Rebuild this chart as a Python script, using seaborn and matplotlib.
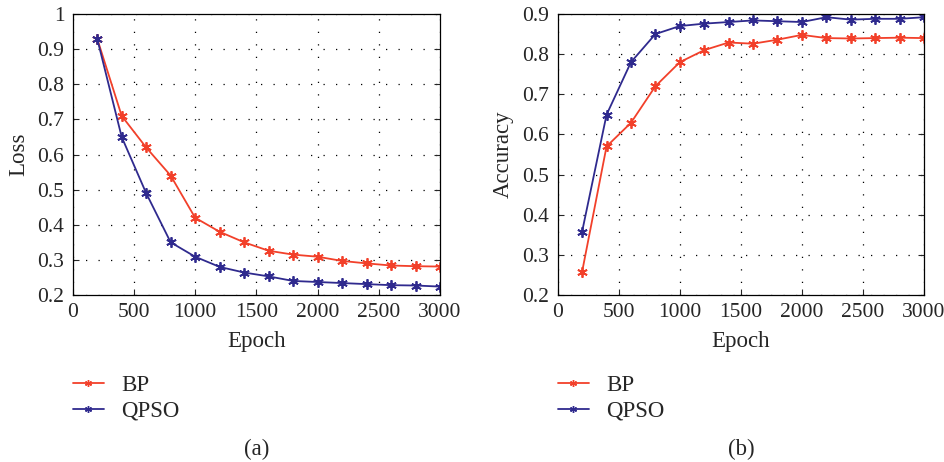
import numpy as np
import matplotlib
matplotlib.use("Agg")
import matplotlib.pyplot as plt
import seaborn as sns
from matplotlib.ticker import FuncFormatter

# --- data ---
epochs = [200, 400, 600, 800, 1000, 1200, 1400, 1600, 1800, 2000,
          2200, 2400, 2600, 2800, 3000]
loss_bp = [0.93, 0.71, 0.62, 0.54, 0.42, 0.38, 0.35, 0.326, 0.315, 0.309,
           0.297, 0.29, 0.284, 0.282, 0.281]
loss_qpso = [0.93, 0.65, 0.49, 0.35, 0.309, 0.28, 0.264, 0.253, 0.24, 0.237,
             0.234, 0.231, 0.228, 0.227, 0.224]
acc_bp = [0.258, 0.57, 0.629, 0.72, 0.78, 0.81, 0.829, 0.826, 0.836, 0.848,
          0.84, 0.839, 0.84, 0.841, 0.84]
acc_qpso = [0.358, 0.649, 0.78, 0.85, 0.87, 0.876, 0.88, 0.884, 0.882, 0.88,
            0.892, 0.886, 0.888, 0.888, 0.892]
methods = ["BP", "QPSO"]

colors = {"BP": "#f2402a", "QPSO": "#2f2a8e"}
star = (6, 2, 0)  # asterisk-like marker

sns.set_style("white")
plt.rcParams["font.family"] = ["Liberation Serif", "DejaVu Serif"]

fig = plt.figure(figsize=(9.45, 4.62), dpi=100)
W, H = 945, 462
ax1 = fig.add_axes([72.7 / W, 1 - 295 / H, (440 - 72.7) / W, (295 - 14) / H])
ax2 = fig.add_axes([557.7 / W, 1 - 295 / H, (924 - 557.7) / W, (295 - 14) / H])


def fmt(v, pos):
    return "%g" % round(v, 2)


panels = [(ax1, [loss_bp, loss_qpso], "Loss", (0.2, 1.0), np.arange(0.2, 1.01, 0.1), "(a)"),
          (ax2, [acc_bp, acc_qpso], "Accuracy", (0.2, 0.9), np.arange(0.2, 0.91, 0.1), "(b)")]

for ax, series, ylabel, ylim, yticks, tag in panels:
    for name, vals in zip(methods, series):
        sns.lineplot(x=epochs, y=vals, color=colors[name], label=name,
                     marker=star, markersize=7.5, markeredgewidth=1.3,
                     markeredgecolor=colors[name], linewidth=1.3, ax=ax)
    ax.set_xlim(0, 3000)
    ax.set_ylim(*ylim)
    ax.set_xticks(np.arange(0, 3001, 500))
    ax.set_yticks(yticks)
    ax.yaxis.set_major_formatter(FuncFormatter(fmt))
    ax.grid(True, color="black", linestyle=(0, (1, 9)), linewidth=0.9)
    ax.tick_params(direction="in", length=4, width=0.8, labelsize=15.5,
                   top=False, right=True, bottom=True, left=True, pad=6)
    for s in ax.spines.values():
        s.set_color("black")
        s.set_linewidth(0.9)
    ax.set_xlabel("Epoch", fontsize=16.5, labelpad=6)
    ax.set_ylabel(ylabel, fontsize=16.5, labelpad=6)
    leg = ax.legend(loc="upper left", bbox_to_anchor=(0.0, -0.285),
                    frameon=False, fontsize=16.5, handlelength=1.35,
                    handletextpad=0.75, labelspacing=0.2, borderaxespad=0,
                    borderpad=0)
    for h in leg.legend_handles:
        h.set_markersize(5)
        h.set_markeredgewidth(1.0)
    ax.text(0.5, -0.55, tag, transform=ax.transAxes, ha="center", va="center",
            fontsize=16.5)

fig.savefig("out.png", dpi=100)
